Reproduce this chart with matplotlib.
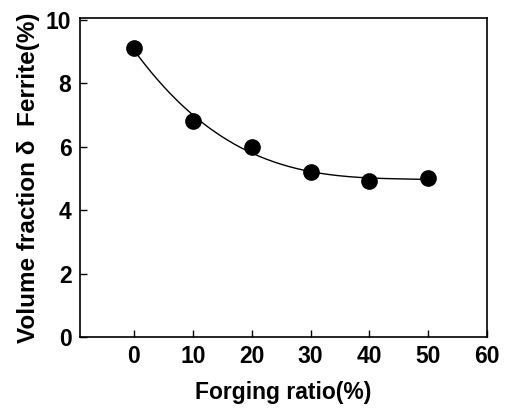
import numpy as np
import matplotlib
matplotlib.use('Agg')
import matplotlib.pyplot as plt

plt.rcParams['font.family'] = ['Liberation Sans', 'DejaVu Sans']

forging_ratio = [0, 10, 20, 30, 40, 50]
ferrite = [9.1, 6.8, 6.0, 5.2, 4.92, 5.0]
x_ticks = [0, 10, 20, 30, 40, 50, 60]
y_ticks = [0, 2, 4, 6, 8, 10]

# smooth trend line, polynomial fit through the measured points
coef = np.polyfit(forging_ratio, ferrite, 3)
xs = np.linspace(0, 50, 200)
ys = np.polyval(coef, xs)

fig = plt.figure(figsize=(5.08, 4.08), dpi=100)
ax = fig.add_axes([0.157, 0.174, 0.802, 0.782])
ax.plot(xs, ys, color='black', lw=1.0)
ax.plot(forging_ratio, ferrite, 'o', color='black', ms=11)

ax.set_xlim(-9.2, 60)
ax.set_ylim(0, 10.05)
ax.set_xticks(x_ticks)
ax.set_yticks(y_ticks)
ax.tick_params(direction='in', length=5, width=1, labelsize=16.5, pad=6)
for lab in ax.get_xticklabels() + ax.get_yticklabels():
    lab.set_fontweight('bold')
for sp in ax.spines.values():
    sp.set_linewidth(1.2)

ax.set_xlabel('Forging ratio(%)', fontsize=16.5, fontweight='bold', labelpad=9)
ax.set_ylabel('Volume fraction δ  Ferrite(%)', fontsize=17.5, fontweight='bold', labelpad=4)

fig.savefig('out.png', dpi=100)
